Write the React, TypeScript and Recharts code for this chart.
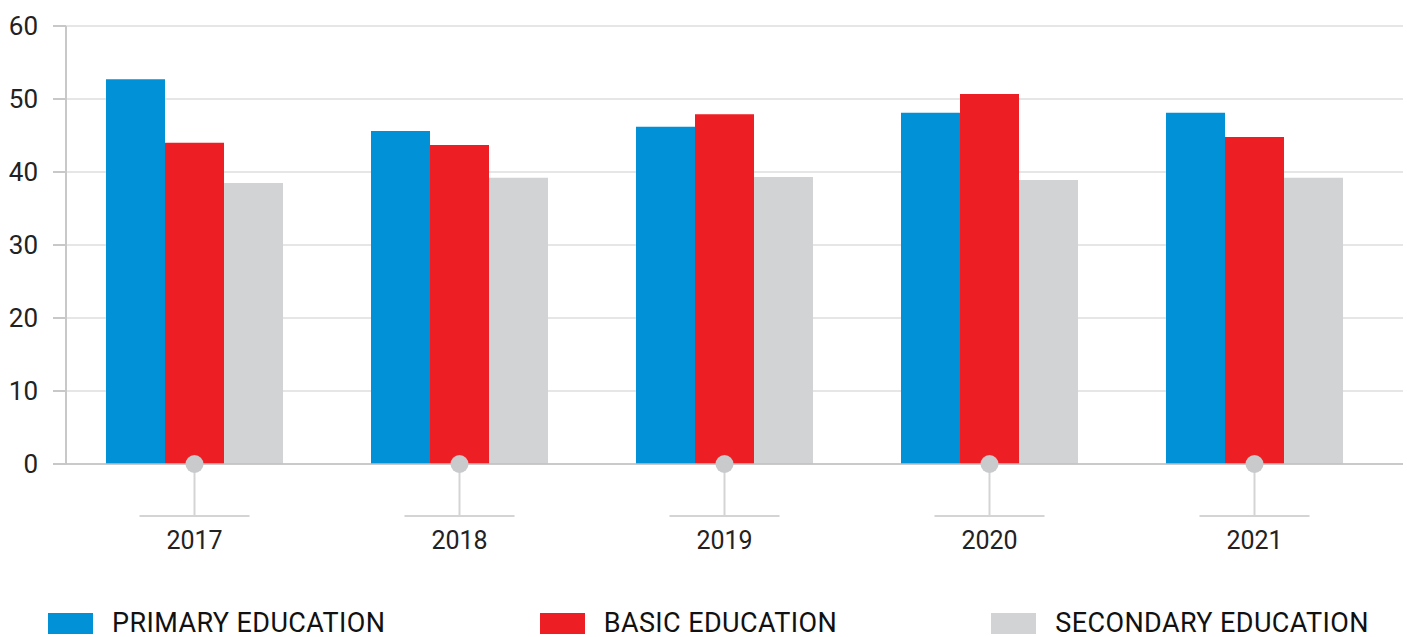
import React from "react";
import { BarChart, Bar, XAxis, YAxis, CartesianGrid } from "recharts";

const years = ["2017", "2018", "2019", "2020", "2021"];
const primary = [52.7, 45.6, 46.2, 48.1, 48.1];
const basic = [44.0, 43.7, 47.9, 50.7, 44.8];
const secondary = [38.5, 39.2, 39.3, 38.9, 39.2];
const yTicks = [0, 10, 20, 30, 40, 50, 60];

const series = [
  { key: "primary", name: "PRIMARY EDUCATION", color: "#0091D6" },
  { key: "basic", name: "BASIC EDUCATION", color: "#EE1E25" },
  { key: "secondary", name: "SECONDARY EDUCATION", color: "#D2D3D5" },
];

const data = years.map((year, i) => ({
  year,
  primary: primary[i],
  basic: basic[i],
  secondary: secondary[i],
}));

const FONT = "Roboto, 'Open Sans', sans-serif";

const XTick = (props: any) => {
  const { x, y, payload } = props;
  return (
    <g>
      <line x1={x} y1={y} x2={x} y2={y + 52} stroke="#d4d4d4" strokeWidth={2} />
      <line x1={x - 55} y1={y + 52} x2={x + 55} y2={y + 52} stroke="#d4d4d4" strokeWidth={2} />
      <circle cx={x} cy={y} r={9} fill="#c9cacc" />
      <text x={x} y={y + 85} textAnchor="middle" fontSize={25} fill="#222" fontFamily={FONT}>
        {payload.value}
      </text>
    </g>
  );
};

export default function App() {
  return (
    <div style={{ position: "absolute", left: 0, top: 0, width: 1407, height: 637, background: "#fff", fontFamily: FONT }}>
      <BarChart
        width={1407}
        height={637}
        data={data}
        margin={{ top: 26, right: 4, left: 0, bottom: 0 }}
        barCategoryGap={44}
        barGap={0}
      >
        <CartesianGrid vertical={false} stroke="#e6e6e6" strokeWidth={2} />
        <YAxis
          domain={[0, 60]}
          ticks={yTicks}
          width={66}
          axisLine={{ stroke: "#c8c8c8", strokeWidth: 2 }}
          tickLine={{ stroke: "#c8c8c8", strokeWidth: 2 }}
          tickSize={13}
          tickMargin={15}
          tick={{ fontSize: 26, fill: "#222", fontFamily: FONT }}
        />
        {series.map((s) => (
          <Bar key={s.key} dataKey={s.key} name={s.name} fill={s.color} isAnimationActive={false} />
        ))}
        <XAxis
          dataKey="year"
          height={173}
          interval={0}
          tickSize={0}
          tickMargin={0}
          tickLine={false}
          axisLine={{ stroke: "#c0c0c0", strokeWidth: 1.5 }}
          padding={{ left: -4, right: 16 }}
          tick={<XTick />}
        />
      </BarChart>
      <div
        style={{
          position: "absolute",
          left: 48,
          top: 613,
          width: 1321,
          display: "flex",
          justifyContent: "space-between",
        }}
      >
        {series.map((s) => (
          <div key={s.key} style={{ display: "flex", alignItems: "center", height: 21 }}>
            <div style={{ width: 45, height: 21, background: s.color, marginRight: 19 }} />
            <span style={{ fontSize: 27, lineHeight: "21px", letterSpacing: 0.4, color: "#111", whiteSpace: "nowrap" }}>{s.name}</span>
          </div>
        ))}
      </div>
    </div>
  );
}
